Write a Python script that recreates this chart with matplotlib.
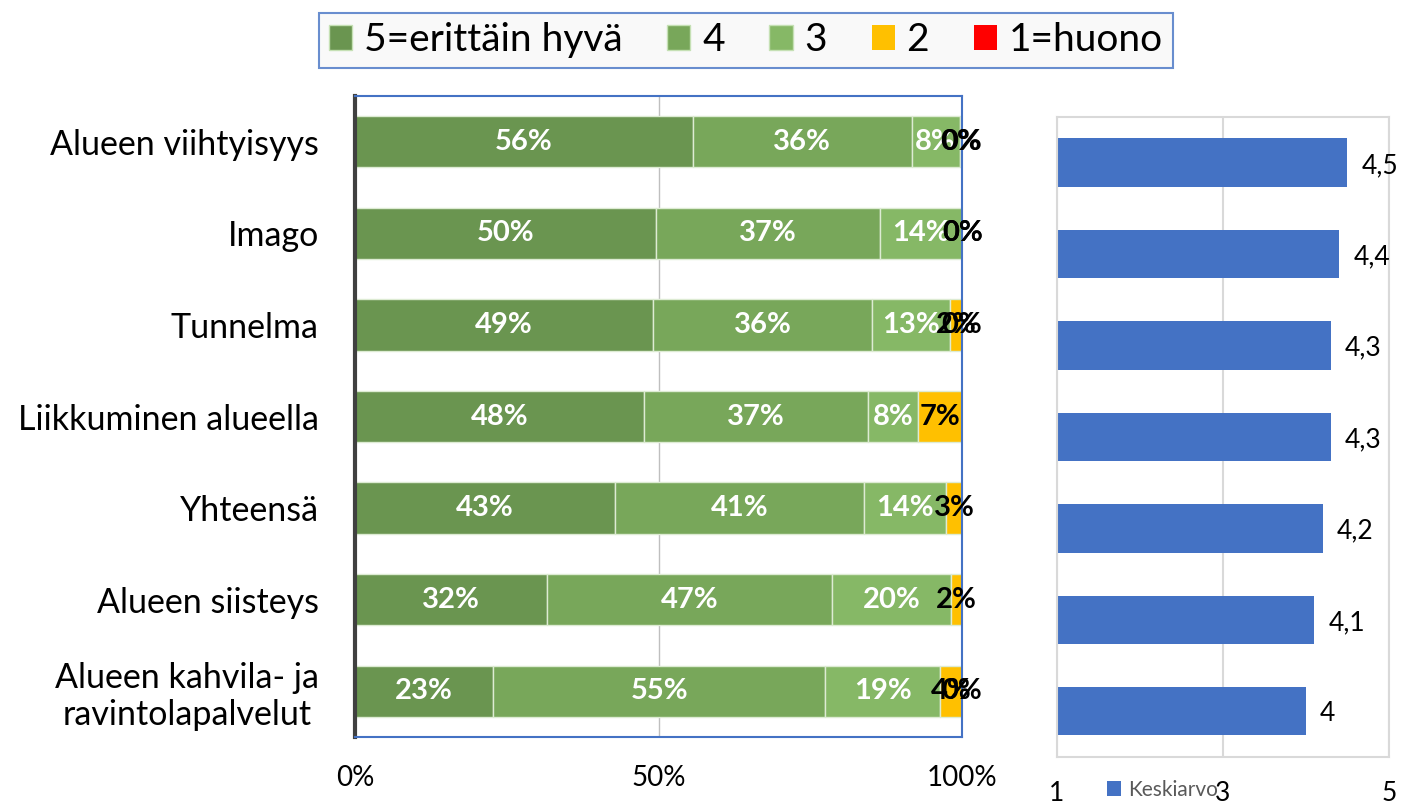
import matplotlib.pyplot as plt
from matplotlib.patches import Patch
import numpy as np

plt.rcParams['font.family'] = ['Lato', 'DejaVu Sans']

# data
categories = ['Alueen viihtyisyys', 'Imago', 'Tunnelma', 'Liikkuminen alueella',
              'Yhteensä', 'Alueen siisteys', 'Alueen kahvila- ja\nravintolapalvelut']
s5 = [55.7, 49.6, 49.1, 47.6, 42.8, 31.6, 22.8]
s4 = [36.0, 36.9, 36.1, 36.9, 41.0, 47.0, 54.6]
s3 = [7.9, 13.6, 12.8, 8.3, 13.6, 19.6, 19.0]
s2 = [0.4, 0.0, 2.0, 7.2, 2.6, 1.8, 3.6]
s1 = [0.0, 0.0, 0.0, np.nan, np.nan, np.nan, 0.0]
series_names = ['5=erittäin hyvä', '4', '3', '2', '1=huono']
keskiarvo = [4.5, 4.4, 4.3, 4.3, 4.2, 4.1, 4.0]

colors = ['#6A9550', '#78A75A', '#86B866', '#FFC000', '#FF0000']
label_colors = ['white', 'white', 'white', 'black', 'black']

fig = plt.figure(figsize=(14.02, 8.07), dpi=100)

# left stacked chart
ax = fig.add_axes([0.2532, 0.0867, 0.4330, 0.7943])
y = np.arange(len(categories))
left = np.zeros(len(categories))
for i, vals in enumerate([s5, s4, s3, s2, s1]):
    v = np.nan_to_num(np.array(vals, dtype=float))
    ax.barh(y, v, left=left, height=0.56, color=colors[i],
            edgecolor='#DDEBD3', linewidth=1, zorder=2)
    for j, val in enumerate(vals):
        if np.isnan(val):
            continue
        ax.text(left[j] + v[j] / 2, y[j], f'{round(val)}%', ha='center', va='center',
                color=label_colors[i], fontsize=21, fontweight='bold', zorder=3)
    left = left + v

ax.set_xlim(0, 100)
ax.set_ylim(len(categories) - 0.5, -0.5)
ax.set_xticks([0, 50, 100])
ax.set_xticklabels(['0%', '50%', '100%'], fontsize=20)
ax.tick_params(axis='x', length=0, pad=20)
ax.set_yticks(y)
ax.set_yticklabels(categories, fontsize=24.5, multialignment='center')
ax.tick_params(axis='y', length=0, pad=26)
ax.xaxis.grid(True, color='#BFBFBF', linewidth=1, zorder=0)
ax.set_axisbelow(True)
for s in ['top', 'right', 'bottom']:
    ax.spines[s].set_color('#4472C4')
    ax.spines[s].set_linewidth(1.5)
ax.spines['left'].set_color('#404040')
ax.spines['left'].set_linewidth(3)

handles = [Patch(facecolor=c, edgecolor='#C5E0B4' if k < 3 else 'none') for k, c in enumerate(colors)]
leg = fig.legend(handles, series_names, loc='center', bbox_to_anchor=(0.532, 0.950), ncol=5,
                 fontsize=28, frameon=True, fancybox=False, handlelength=0.6, handleheight=0.6,
                 handletextpad=0.3, columnspacing=1.15, borderpad=0.25)
leg.get_frame().set_edgecolor('#4472C4')
leg.get_frame().set_linewidth(1.5)
leg.get_frame().set_facecolor('#F8F8F8')

# right mean chart
ax2 = fig.add_axes([0.7539, 0.0620, 0.2368, 0.7930])
bars = ax2.barh(y, np.array(keskiarvo) - 1, left=1, height=0.53, color='#4472C4', zorder=2)
for j, val in enumerate(keskiarvo):
    ax2.text(val + 0.17, y[j] + 0.03, f'{val:g}'.replace('.', ','), ha='left', va='center',
             fontsize=19, color='black')
ax2.set_xlim(1, 5)
ax2.set_ylim(len(categories) - 0.5, -0.5)
ax2.set_xticks([1, 3, 5])
ax2.set_xticklabels(['1', '3', '5'], fontsize=19)
ax2.tick_params(axis='x', length=0, pad=17)
ax2.set_yticks([])
ax2.xaxis.grid(True, color='#D9D9D9', linewidth=1.5, zorder=0)
ax2.set_axisbelow(True)
for s in ax2.spines.values():
    s.set_color('#D9D9D9')
    s.set_linewidth(1.5)

leg2 = fig.legend([Patch(facecolor='#4472C4')], ['Keskiarvo'], loc='center',
                  bbox_to_anchor=(0.829, 0.021), frameon=False, fontsize=15,
                  handlelength=0.7, handleheight=0.7, handletextpad=0.3)
for t in leg2.get_texts():
    t.set_color('#595959')

fig.savefig('out.png', dpi=100)
